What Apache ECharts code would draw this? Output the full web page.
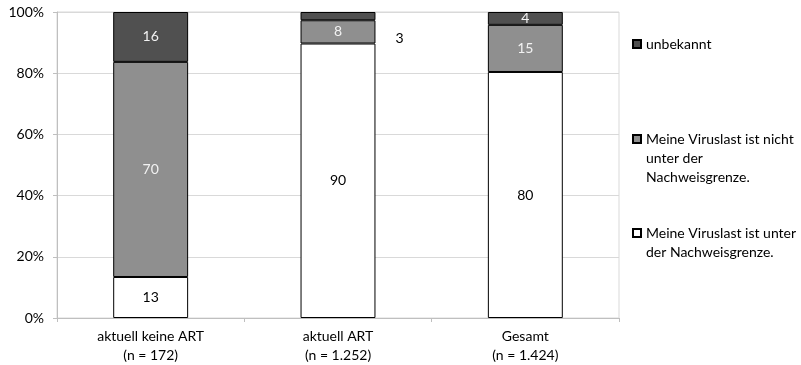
<!DOCTYPE html>
<html>
<head>
<meta charset="utf-8">
<script src="https://cdn.jsdelivr.net/npm/echarts@6/dist/echarts.min.js"></script>
<style>html,body{margin:0;padding:0;background:#fff}#c{width:801px;height:365px}</style>
</head>
<body>
<div id="c"></div>
<script>
const categories = ['aktuell keine ART\n(n = 172)', 'aktuell ART\n(n = 1.252)', 'Gesamt\n(n = 1.424)'];
const seriesNames = ['Meine Viruslast ist unter\nder Nachweisgrenze.', 'Meine Viruslast ist nicht\nunter der\nNachweisgrenze.', 'unbekannt'];
const unterValues = [13.4, 89.7, 80.4];
const nichtValues = [70.3, 7.6, 15.4];
const unbekanntValues = [16.3, 2.7, 4.2];
const yTicks = [0, 20, 40, 60, 80, 100];

const FONT = 'Lato';
const FS = 14;
const chart = echarts.init(document.getElementById('c'), null, {renderer: 'canvas'});

const labelFmt = p => String(Math.round(p.value));

function legendAt(name, top, pre) {
  return {
    data: [name], left: 632, top: top, orient: 'vertical', padding: 0,
    itemWidth: 8, itemHeight: 8, icon: 'rect', selectedMode: false,
    formatter: n => pre + n,
    textStyle: {fontFamily: FONT, fontSize: FS, lineHeight: 19, color: '#000'}
  };
}

chart.setOption({
  animation: false,
  textStyle: {fontFamily: FONT},
  grid: {left: 57, right: 182, top: 12, bottom: 46, show: true, borderColor: '#d9d9d9', borderWidth: 1},
  legend: [
    legendAt(seriesNames[2], 34.5, ''),
    legendAt(seriesNames[1], 91.5, '\n\n'),
    legendAt(seriesNames[0], 204.5, '\n')
  ],
  xAxis: {
    type: 'category', data: categories,
    axisLine: {lineStyle: {color: '#bfbfbf'}},
    axisTick: {show: true, length: 4, lineStyle: {color: '#bfbfbf'}},
    axisLabel: {fontFamily: FONT, fontSize: FS, lineHeight: 19, color: '#000', margin: 9}
  },
  yAxis: {
    type: 'value', min: yTicks[0], max: yTicks[yTicks.length - 1], interval: 20,
    axisLine: {show: true, lineStyle: {color: '#bfbfbf'}},
    axisTick: {show: true, length: 4, lineStyle: {color: '#bfbfbf'}},
    splitLine: {lineStyle: {color: '#d9d9d9'}},
    axisLabel: {fontFamily: FONT, fontSize: FS, color: '#000', margin: 13, formatter: '{value}%'}
  },
  series: [
    {
      name: seriesNames[0], type: 'bar', stack: 's', barWidth: '40%', data: unterValues,
      itemStyle: {color: '#ffffff', borderColor: '#000', borderWidth: 1},
      label: {show: true, position: 'inside', formatter: labelFmt, color: '#000', fontFamily: FONT, fontSize: FS}
    },
    {
      name: seriesNames[1], type: 'bar', stack: 's', data: nichtValues,
      itemStyle: {color: '#8f8f8f', borderColor: '#000', borderWidth: 1},
      label: {show: true, position: 'inside', formatter: labelFmt, color: '#f2f2f2', fontFamily: FONT, fontSize: FS}
    },
    {
      name: seriesNames[2], type: 'bar', stack: 's',
      data: unbekanntValues.map((v, i) => i === 1 ? {value: v, label: {position: 'right', offset: [15, 22], color: '#000'}} : v),
      itemStyle: {color: '#505050', borderColor: '#000', borderWidth: 1},
      label: {show: true, position: 'inside', formatter: labelFmt, color: '#f2f2f2', fontFamily: FONT, fontSize: FS}
    }
  ]
});
</script>
</body>
</html>
